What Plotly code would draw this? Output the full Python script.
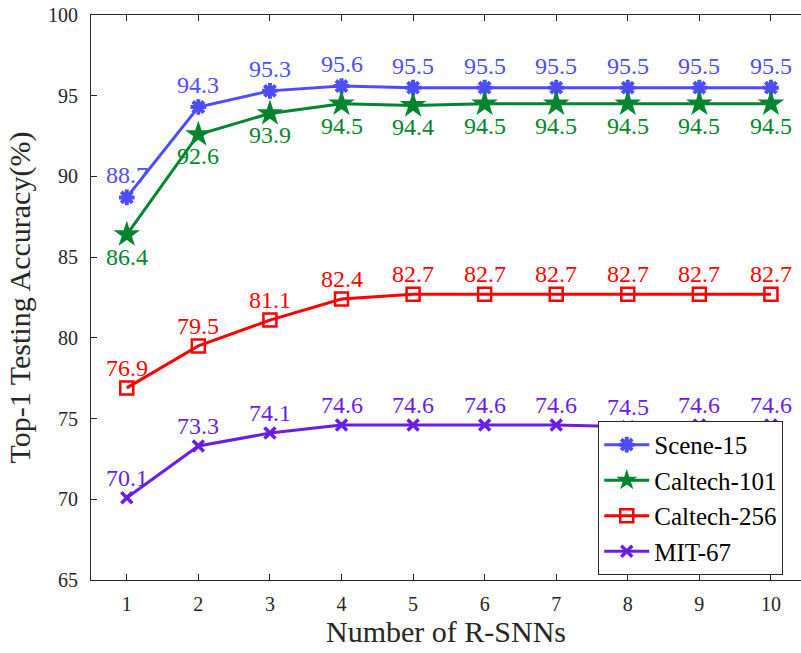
import plotly.graph_objects as go

# Number of R-SNNs on the x axis
n_rsnn = [1, 2, 3, 4, 5, 6, 7, 8, 9, 10]

# Top-1 testing accuracy (%) per dataset
scene15 = [88.7, 94.3, 95.3, 95.6, 95.5, 95.5, 95.5, 95.5, 95.5, 95.5]
caltech101 = [86.4, 92.6, 93.9, 94.5, 94.4, 94.5, 94.5, 94.5, 94.5, 94.5]
caltech256 = [76.9, 79.5, 81.1, 82.4, 82.7, 82.7, 82.7, 82.7, 82.7, 82.7]
mit67 = [70.1, 73.3, 74.1, 74.6, 74.6, 74.6, 74.6, 74.5, 74.6, 74.6]

y_ticks = [65, 70, 75, 80, 85, 90, 95, 100]

FONT = "Times New Roman"
AXIS_COLOR = "#262626"

series = [
    dict(name="Scene-15", y=scene15, color="#4d4dff",
         marker=dict(symbol="asterisk-open", size=13, line=dict(width=4, color="#4d4dff")),
         shift=22),
    dict(name="Caltech-101", y=caltech101, color="#00852f",
         marker=dict(symbol="star", size=20, color="#00852f", line=dict(width=0)),
         shift=-22),
    dict(name="Caltech-256", y=caltech256, color="#ff0000",
         marker=dict(symbol="square-open", size=13, line=dict(width=2.5, color="#ff0000")),
         shift=20),
    dict(name="MIT-67", y=mit67, color="#6a1de6",
         marker=dict(symbol="x-thin-open", size=11, line=dict(width=3.5, color="#6a1de6")),
         shift=20),
]

fig = go.Figure()
annotations = []
for s in series:
    fig.add_trace(go.Scatter(
        x=n_rsnn, y=s["y"], name=s["name"], mode="lines+markers",
        line=dict(color=s["color"], width=3),
        marker=s["marker"], cliponaxis=False,
    ))
    # value labels above/below each point
    for xv, yv in zip(n_rsnn, s["y"]):
        annotations.append(dict(
            x=xv, y=yv, xref="x", yref="y", text=f"{yv:.1f}",
            showarrow=False, yshift=s["shift"],
            font=dict(family=FONT, size=24, color=s["color"]),
        ))

fig.update_layout(
    width=801, height=653,
    margin=dict(l=91, r=0, t=15, b=73),
    paper_bgcolor="white", plot_bgcolor="white",
    annotations=annotations,
    showlegend=True,
    legend=dict(
        x=0.975, y=0.009, xanchor="right", yanchor="bottom",
        bgcolor="white", bordercolor="#262626", borderwidth=1,
        font=dict(family=FONT, size=25, color="black"),
        itemwidth=45,
    ),
    xaxis=dict(
        range=[0.5, 10.42], tickmode="array", tickvals=n_rsnn,
        ticks="inside", ticklen=6, tickcolor=AXIS_COLOR, tickwidth=1,
        showline=True, linecolor=AXIS_COLOR, linewidth=1, mirror="ticks",
        showgrid=False, zeroline=False,
        tickfont=dict(family=FONT, size=20, color=AXIS_COLOR),
        ticklabelstandoff=6,
        title=dict(text="Number of R-SNNs", standoff=5,
                   font=dict(family=FONT, size=30, color=AXIS_COLOR)),
    ),
    yaxis=dict(
        range=[65, 100], tickmode="array", tickvals=y_ticks,
        ticks="inside", ticklen=6, tickcolor=AXIS_COLOR, tickwidth=1,
        showline=True, linecolor=AXIS_COLOR, linewidth=1,
        showgrid=False, zeroline=False,
        tickfont=dict(family=FONT, size=20, color=AXIS_COLOR),
        ticklabelstandoff=8,
        title=dict(text="Top-1 Testing Accuracy(%)", standoff=8,
                   font=dict(family=FONT, size=30, color=AXIS_COLOR)),
    ),
)

fig.write_html("out.html")
